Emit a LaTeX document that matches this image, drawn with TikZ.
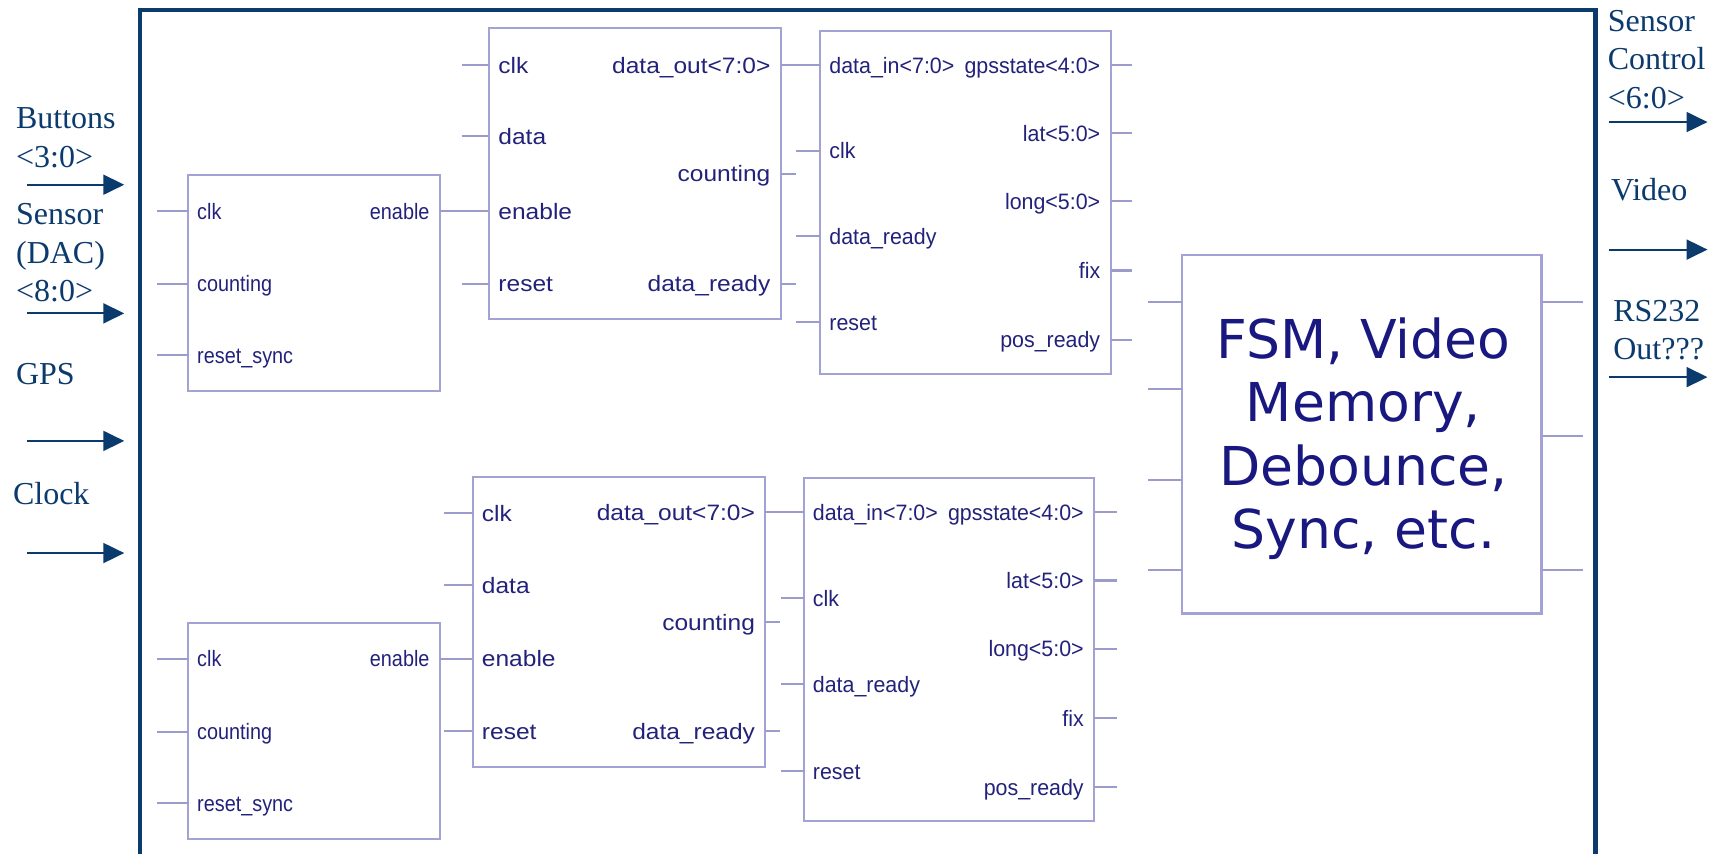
\documentclass[tikz,border=0pt]{standalone}
\usepackage{fontspec}
\setmainfont{Liberation Serif}
\newfontfamily\pinfontA[FakeStretch=0.89]{Liberation Sans}
\newfontfamily\pinfontB[FakeStretch=1.1]{Liberation Sans}
\newfontfamily\pinfontC[FakeStretch=0.96]{Liberation Sans}
\newfontfamily\fsmfont{DejaVu Sans}
\usetikzlibrary{arrows.meta,fit}

\definecolor{framecol}{HTML}{0B3A6D}
\definecolor{blkline}{HTML}{A2A2D4}
\definecolor{wirecol}{HTML}{9C9CCC}
\definecolor{blktext}{HTML}{22227A}
\definecolor{fsmtext}{HTML}{181880}

\tikzset{
  blk/.style={draw=blkline, line width=1pt, inner sep=0pt},
  pinwire/.style={draw=wirecol, line width=1.1pt},
  pinA/.style={text=blktext, inner sep=0pt, font=\pinfontA\fontsize{11.15}{13}\selectfont},
  pinB/.style={text=blktext, inner sep=0pt, font=\pinfontB\fontsize{11.15}{13}\selectfont},
  pinC/.style={text=blktext, inner sep=0pt, font=\pinfontC\fontsize{11.15}{13}\selectfont},
  ioarrow/.style={draw=framecol, line width=1pt, -{Triangle[length=10.5pt,width=10pt]}},
  % multi-line labels: the base anchor sits on the last line
  iolbl/.style={text=framecol, inner sep=0pt, align=left, anchor=base west,
                font=\fontsize{16}{19.25}\selectfont},
}

% pins on the west side of a block: block, edge x, stub x, label style, y/id/text/stub
\newcommand\westpins[5]{%
  \foreach \py/\pid/\ptxt/\pst in {#5}{%
    \coordinate (#1-\pid) at (#2,\py);
    \node[#4, anchor=base west] (#1-\pid-lbl) at (#2+8,\py+7.5) {\ptxt};
    \ifnum\pst=1
      \coordinate (#1-\pid-end) at (#3,\py);
      \draw[pinwire] (#1-\pid-end) -- (#1-\pid);
    \fi}}
% pins on the east side of a block
\newcommand\eastpins[5]{%
  \foreach \py/\pid/\ptxt/\pst in {#5}{%
    \coordinate (#1-\pid) at (#2,\py);
    \node[#4, anchor=base east] (#1-\pid-lbl) at (#2-9,\py+7.5) {\ptxt};
    \ifnum\pst=1
      \coordinate (#1-\pid-end) at (#3,\py);
      \draw[pinwire] (#1-\pid) -- (#1-\pid-end);
    \fi}}

\begin{document}
\begin{tikzpicture}[x=0.55pt, y=-0.55pt]
\useasboundingbox (0,0) rectangle (1568,776);
\clip (0,0) rectangle (1568,776);

% ---------- top-level frame ----------
\coordinate (fr-bl) at (127.3,800);
\coordinate (fr-tl) at (127.3,9);
\coordinate (fr-tr) at (1451,9);
\coordinate (fr-br) at (1451,800);
\draw[framecol, line width=2.3pt] (fr-bl) -- (fr-tl) -- (fr-tr) -- (fr-br);

% ---------- inputs ----------
\node[iolbl] (lbl-btn) at (14.3,152) {Buttons\\<3:0>};
\node[iolbl] (lbl-sen) at (14.3,274.5) {Sensor\\(DAC)\\<8:0>};
\node[iolbl] (lbl-gps) at (14.3,350) {GPS};
\node[iolbl] (lbl-clk) at (11.5,459) {Clock};
\foreach \ay/\aid in {168/btn, 285/sen, 401/gps, 503/clk}{%
  \coordinate (in-\aid-s) at (25,\ay);
  \coordinate (in-\aid-e) at (113,\ay);
  \draw[ioarrow] (in-\aid-s) -- (in-\aid-e);}

% ---------- outputs ----------
\node[iolbl] (lbl-sctl) at (1462,98.5) {Sensor\\Control\\<6:0>};
\node[iolbl] (lbl-vid) at (1465,182) {Video};
\node[iolbl] (lbl-rs) at (1467,327) {RS232\\Out???};
\foreach \ay/\aid in {111/sctl, 227/vid, 343/rs}{%
  \coordinate (out-\aid-s) at (1463,\ay);
  \coordinate (out-\aid-e) at (1553,\ay);
  \draw[ioarrow] (out-\aid-s) -- (out-\aid-e);}

% ---------- upper channel ----------
\node[blk, fit={(171,159) (400,356)}] (A) {};
\westpins{A}{171}{143}{pinA}{192/clk/clk/1, 258/cnt/counting/1, 323/rst/reset\_sync/1}
\eastpins{A}{400}{400}{pinA}{192/en/enable/0}

\node[blk, fit={(445,25.5) (710,290)}] (B) {};
\westpins{B}{445}{420}{pinB}{59/clk/clk/1, 124/data/data/1, 192/en/enable/0, 258/rst/reset/1}
\eastpins{B}{710}{724}{pinB}{59/dout/data\_out<7:0>/0, 158/cnt/counting/1, 258/rdy/data\_ready/1}

\node[blk, fit={(746,28) (1010,340)}] (C) {};
\westpins{C}{746}{724}{pinC}{59/din/data\_in<7:0>/0, 137/clk/clk/1, 215/rdy/data\_ready/1, 293/rst/reset/1}
\eastpins{C}{1010}{1030}{pinC}{59/gps/gpsstate<4:0>/1, 121/lat/lat<5:0>/1, 183/long/long<5:0>/1, 246/fix/fix/1, 309/pos/pos\_ready/1}

\draw[pinwire] (A-en) -- (B-en);
\draw[pinwire] (B-dout) -- (C-din);

% ---------- lower channel ----------
\node[blk, fit={(171,567) (400,763)}] (A2) {};
\westpins{A2}{171}{143}{pinA}{599/clk/clk/1, 665.5/cnt/counting/1, 730.5/rst/reset\_sync/1}
\eastpins{A2}{400}{400}{pinA}{599/en/enable/0}

\node[blk, fit={(430,434) (696,697.5)}] (B2) {};
\westpins{B2}{430}{404}{pinB}{466.5/clk/clk/1, 532/data/data/1, 599/en/enable/0, 665/rst/reset/1}
\eastpins{B2}{696}{709}{pinB}{466/dout/data\_out<7:0>/0, 565.6/cnt/counting/1, 665/rdy/data\_ready/1}

\node[blk, fit={(731,435) (995,747)}] (C2) {};
\westpins{C2}{731}{710}{pinC}{466/din/data\_in<7:0>/0, 544/clk/clk/1, 622/rdy/data\_ready/1, 701/rst/reset/1}
\eastpins{C2}{995}{1016}{pinC}{466/gps/gpsstate<4:0>/1, 528/lat/lat<5:0>/1, 590/long/long<5:0>/1, 653/fix/fix/1, 716/pos/pos\_ready/1}

\draw[pinwire] (A2-en) -- (B2-en);
\draw[pinwire] (B2-dout) -- (C2-din);

% ---------- control block ----------
\node[blk, line width=1.3pt, fit={(1075,232) (1402,558)}] (F) {};
\node[text=fsmtext, inner sep=0pt, align=center,
      font=\fsmfont\fontsize{26.8}{31.8}\selectfont] (F-lbl) at (1240,399)
  {FSM, Video\\Memory,\\Debounce,\\Sync, etc.};
\foreach \py/\pid in {274.5/1, 354/2, 436.6/3, 518.6/4}{%
  \coordinate (F-in\pid) at (1075,\py);
  \coordinate (F-in\pid-end) at (1044,\py);
  \draw[pinwire, line width=1.2pt] (F-in\pid-end) -- (F-in\pid);}
\foreach \py/\pid in {274.5/1, 396.6/2, 518.6/3}{%
  \coordinate (F-out\pid) at (1402,\py);
  \coordinate (F-out\pid-end) at (1440,\py);
  \draw[pinwire, line width=1.2pt] (F-out\pid) -- (F-out\pid-end);}
\end{tikzpicture}
\end{document}
